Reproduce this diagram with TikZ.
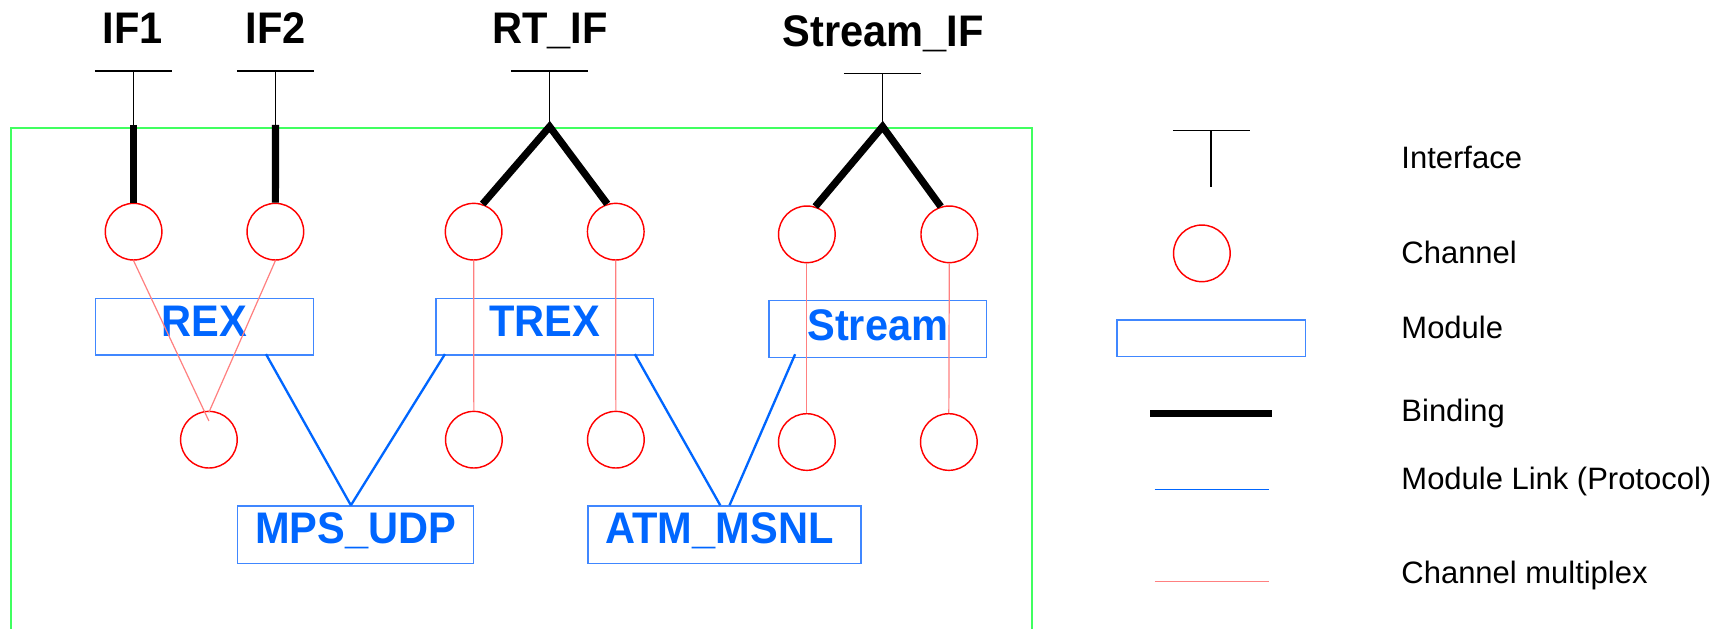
\documentclass[tikz,border=0pt]{standalone}
\usepackage{fontspec}
\setmainfont{Liberation Sans}
\definecolor{modblue}{RGB}{0,102,255}
\definecolor{boxblue}{RGB}{64,135,255}
\definecolor{chred}{RGB}{255,0,0}
\definecolor{muxpink}{RGB}{255,128,128}
\definecolor{areagreen}{RGB}{64,255,96}
\newcommand{\bigbold}[1]{\scalebox{0.94}[1]{\fontsize{40}{44}\selectfont\bfseries #1}}
\tikzset{
  ifbar/.style={black, line width=1.2pt},
  binding/.style={black, line width=6.5pt, line cap=butt, line join=miter},
  channel/.style={circle, draw=chred, line width=1.3pt, minimum size=51.2pt, inner sep=0pt},
  module/.style={rectangle, draw=boxblue, line width=1.4pt, inner sep=0pt},
  modtext/.style={anchor=base, text=modblue, inner sep=0pt},
  iftext/.style={anchor=base, text=black, inner sep=0pt},
  modlink/.style={modblue, line width=2.1pt},
  mux/.style={muxpink, line width=1.1pt},
  area/.style={areagreen, line width=1.8pt},
  legtext/.style={anchor=base west, inner sep=0pt, font=\fontsize{28}{32}\selectfont}
}
\begin{document}
\begin{tikzpicture}[x=1pt, y=-1pt]
\useasboundingbox (0,0) rectangle (1568,568);

% enclosing area, open at the bottom
\draw[area] (9.7,575) -- (9.7,115.4) -- (932.9,115.4) -- (932.9,575);

% interface labels
\node[iftext] (lif1) at (119.8,39.2) {\bigbold{IF1}};
\node[iftext] (lif2) at (249.2,39.2) {\bigbold{IF2}};
\node[iftext] (lrt)  at (497.4,39.2) {\bigbold{RT\_IF}};
\node[iftext] (lst)  at (798.6,42.2) {\bigbold{Stream\_IF}};

% interface symbols: bar, stem top and binding point
\coordinate (t1) at (120.8,64.2);  \coordinate (v1) at (120.8,113);
\coordinate (t2) at (249.2,64.2);  \coordinate (v2) at (249.2,113);
\coordinate (t3) at (497,64.2);    \coordinate (v3) at (497,114.5);
\coordinate (t4) at (798.1,66.3);  \coordinate (v4) at (798.1,114.5);
\foreach \t/\v in {t1/v1,t2/v2,t3/v3,t4/v4}{
  \draw[ifbar] ([xshift=-35pt]\t) -- ([xshift=35pt]\t);
  \draw[ifbar] (\t) -- (\v);
}

% channels
\node[channel] (c1) at (120.8,209.5) {};
\node[channel] (c2) at (249,209.5) {};
\node[channel] (c3) at (428.3,209.5) {};
\node[channel] (c4) at (556.8,209.5) {};
\node[channel] (c5) at (729.6,211.9) {};
\node[channel] (c6) at (858.4,211.9) {};
\node[channel] (cm) at (188.9,397.6) {};
\node[channel] (d3) at (428.5,397.6) {};
\node[channel] (d4) at (556.9,397.6) {};
\node[channel] (d5) at (729.6,399.7) {};
\node[channel] (d6) at (858,399.7) {};

% bindings
\draw[binding] (v1) -- (c1.north);
\draw[binding] (v2) -- (c2.north);
\draw[binding] (c3.72) -- (v3) -- (c4.107);
\draw[binding] (c5.73) -- (v4) -- (c6.107);

% modules
\node[module, minimum width=197pt, minimum height=51.2pt] (rex) at (185,295.4) {};
\node[module, minimum width=196.7pt, minimum height=51.2pt] (trex) at (492.4,295.4) {};
\node[module, minimum width=196.6pt, minimum height=51.2pt] (strm) at (793.8,297.5) {};
\node[module, minimum width=213.5pt, minimum height=51.8pt] (mps) at (321.5,483.5) {};
\node[module, minimum width=247pt, minimum height=51.8pt] (atm) at (655,483.5) {};
\node[modtext] (rex-t)  at ([yshift=-9pt]rex.center) {\bigbold{REX}};
\node[modtext] (trex-t) at ([yshift=-8.5pt]trex.center) {\bigbold{TREX}};
\node[modtext] (strm-t) at ([yshift=-10pt]strm.center) {\bigbold{Stream}};
\node[modtext] (mps-t)  at ([yshift=-8pt]mps.center) {\bigbold{MPS\_UDP}};
\node[modtext] (atm-t)  at ([yshift=-8pt, xshift=-4.3pt]atm.center) {\bigbold{ATM\_MSNL}};

% module links
\draw[modlink] ([xshift=55.5pt, yshift=1.5pt]rex.south) -- ([xshift=-4.2pt]mps.north);
\draw[modlink] ([xshift=9pt, yshift=1.5pt]trex.south west) -- ([xshift=-4.2pt]mps.north);
\draw[modlink] ([xshift=-17.4pt, yshift=1.5pt]trex.south east) -- ([xshift=-3.7pt]atm.north);
\draw[modlink] ([xshift=24.2pt, yshift=3.5pt]strm.south west) -- ([xshift=4.7pt]atm.north);

% channel multiplexing
\draw[mux] (c1.south) -- ([yshift=-9.3pt]cm.north);
\draw[mux] (c2.south) -- ([yshift=-1.5pt]cm.north);
\draw[mux] (c3.south) -- (d3.north);
\draw[mux] (c4.south) -- (d4.north);
\draw[mux] (c5.south) -- (d5.north);
\draw[mux] (c6.south) -- (d6.north);

% legend
\coordinate (lt) at (1095.2,118.2);
\coordinate (lb) at (1095.2,169.4);
\draw[ifbar] (1060.5,118.2) -- (1130,118.2);
\draw[ifbar] (lt) -- (lb);
\node[channel] (lch) at (1086.8,229.1) {};
\node[module, minimum width=170.4pt, minimum height=33.1pt] (lmod) at (1095.2,306) {};
\coordinate (lb1) at (1040.3,374.2); \coordinate (lb2) at (1150.1,374.2);
\draw[binding] (lb1) -- (lb2);
\coordinate (ll1) at (1044,442.5); \coordinate (ll2) at (1147.1,442.5);
\draw[modblue, line width=1.4pt] (ll1) -- (ll2);
\coordinate (lm1) at (1044,526); \coordinate (lm2) at (1147.1,526);
\draw[mux] (lm1) -- (lm2);

\node[legtext] (tif)  at (1267.1,152.2) {Interface};
\node[legtext] (tch)  at (1267.1,238.1) {Channel};
\node[legtext] (tmod) at (1267.1,306.5) {Module};
\node[legtext] (tbin) at (1267.1,381.3) {Binding};
\node[legtext] (tlnk) at (1267.1,443) {Module Link (Protocol)};
\node[legtext] (tmux) at (1267.1,527.5) {Channel multiplex};
\end{tikzpicture}
\end{document}
